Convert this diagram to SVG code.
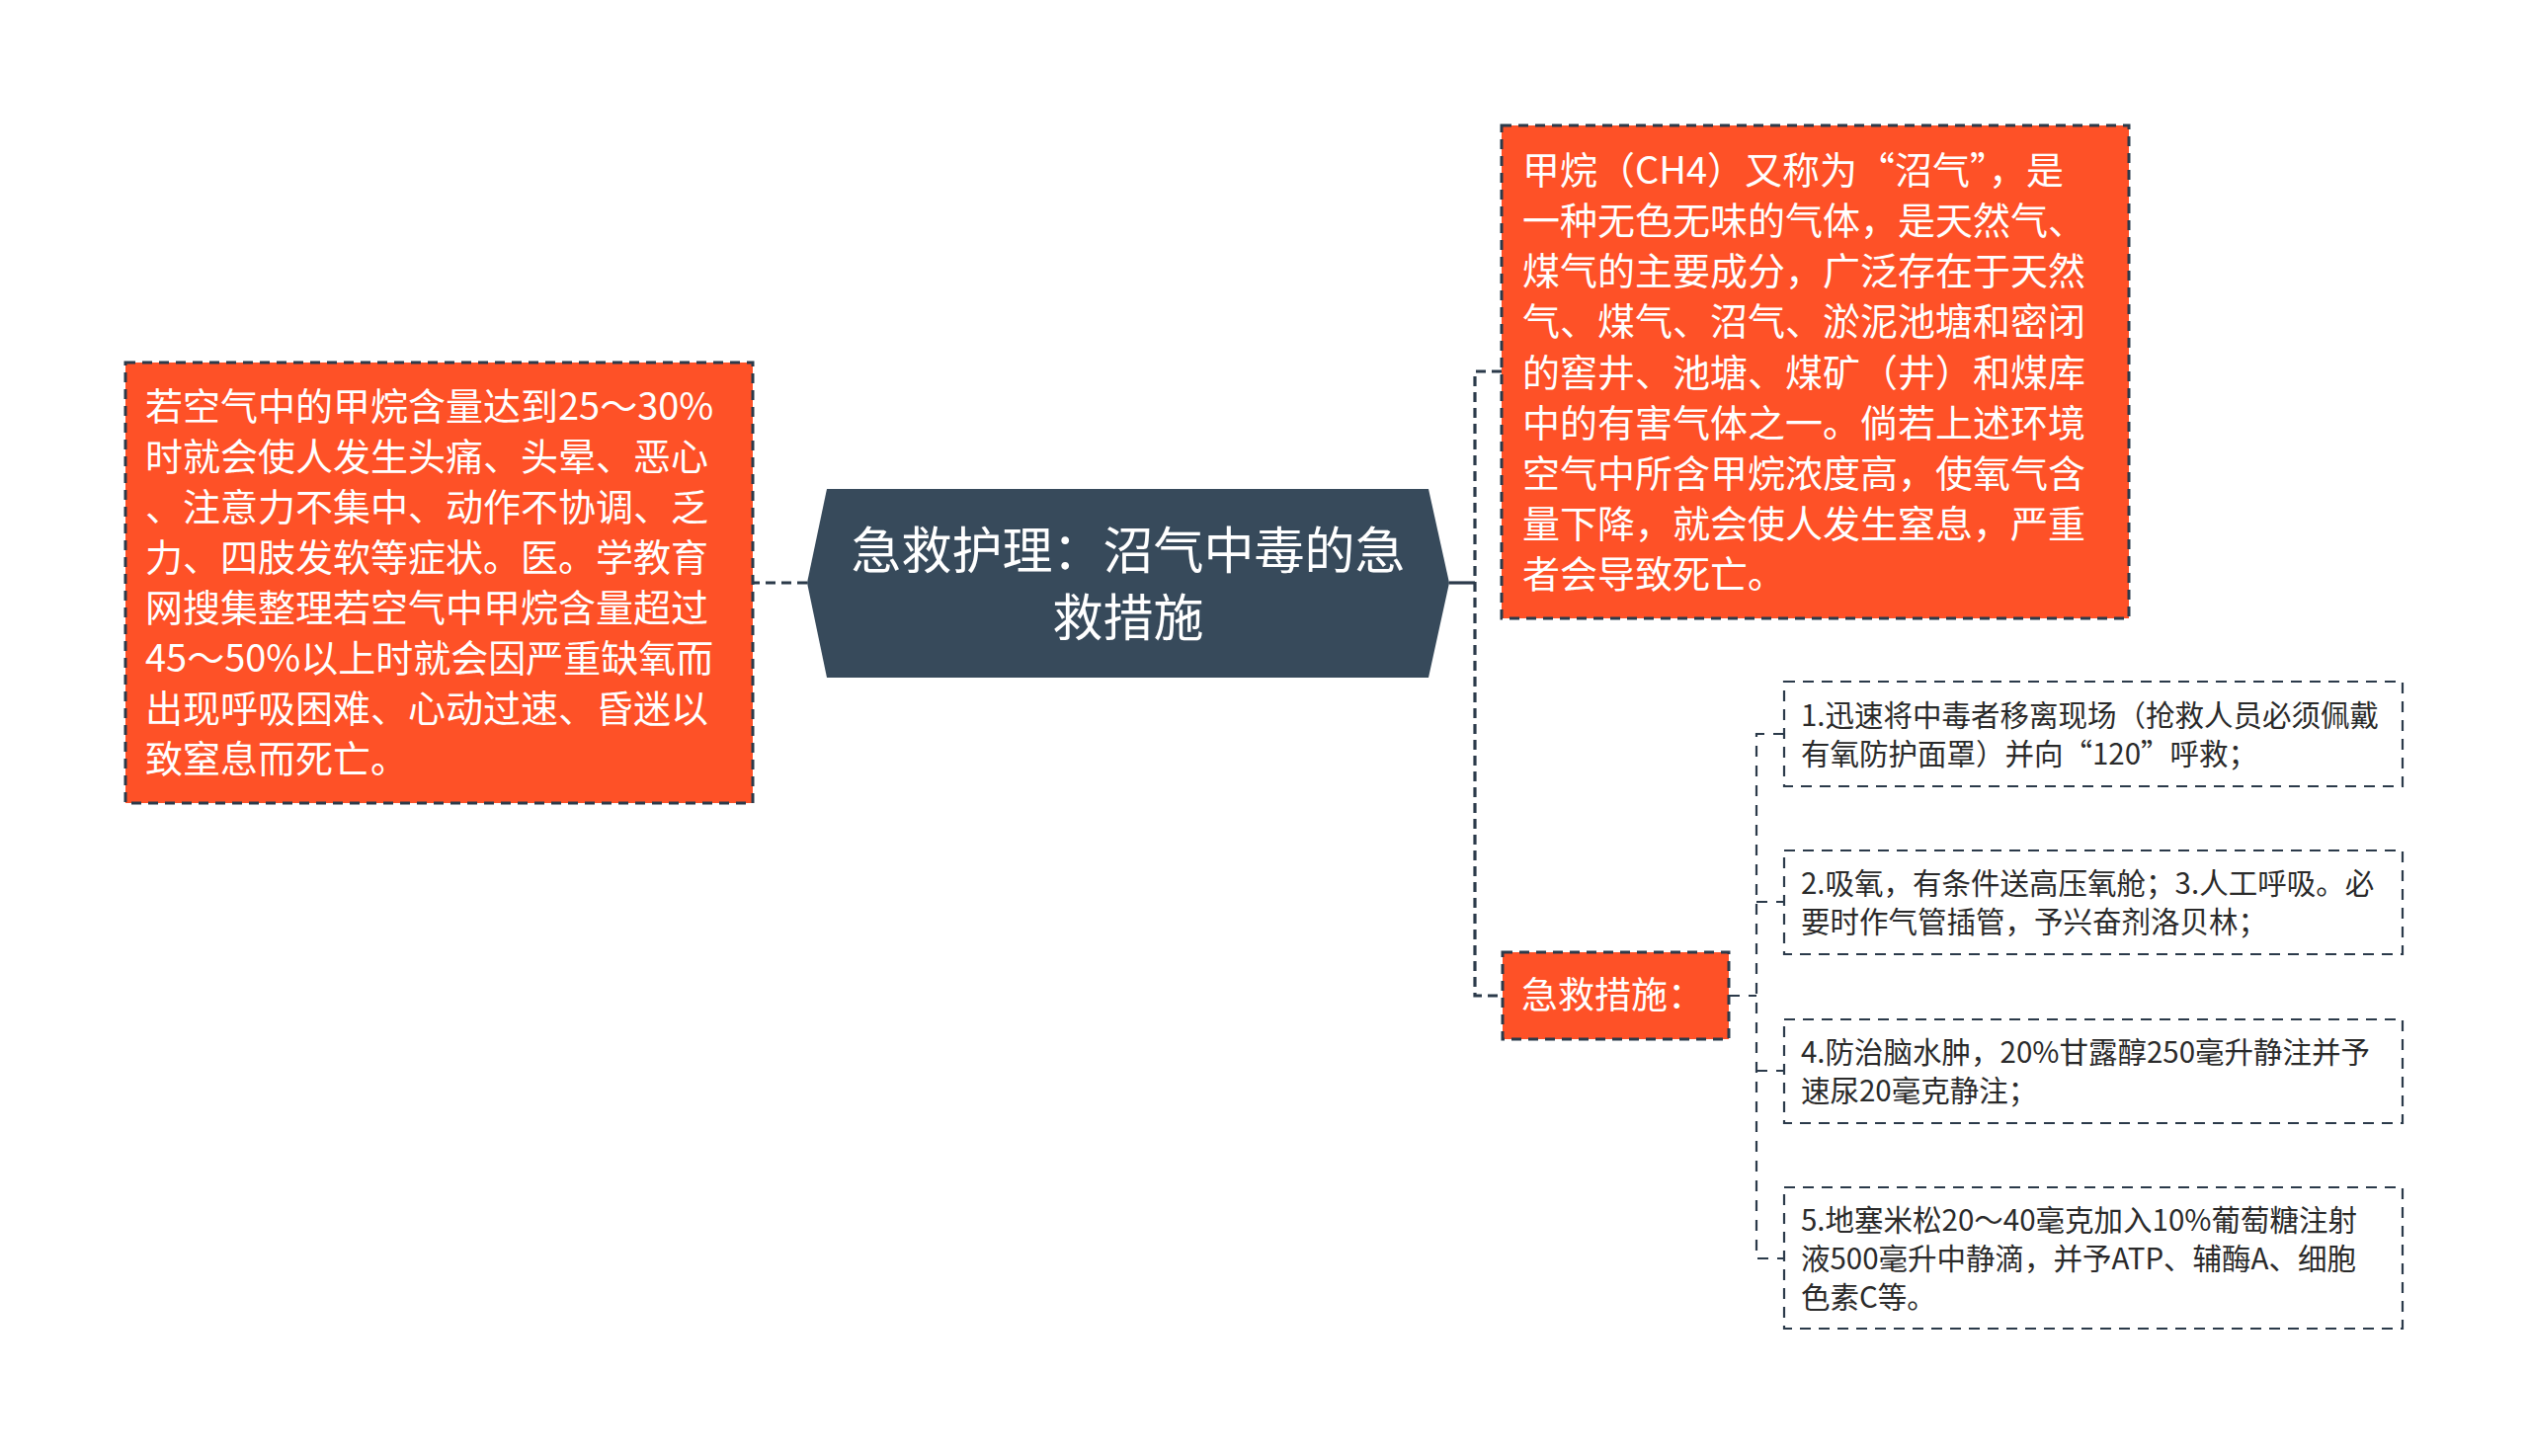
<svg xmlns="http://www.w3.org/2000/svg" width="2560" height="1474" viewBox="0 0 2560 1474">
<style>
.bg{fill:#ffffff}
.orange{fill:#FE5127;stroke:#2B3A4A;stroke-width:3;stroke-dasharray:10 7}
.sub{fill:#ffffff;stroke:#2B3A4A;stroke-width:2.2;stroke-dasharray:11 8}
.hex{fill:#374A5B}
.wt{fill:#ffffff;font-family:"Noto Sans CJK SC","Noto Sans",sans-serif;font-size:38px}
.ct{fill:#ffffff;font-family:"Noto Sans CJK SC","Noto Sans",sans-serif;font-size:51px;text-anchor:middle}
.st{fill:#2a2a2a;font-family:"Noto Sans CJK SC","Noto Sans",sans-serif;font-size:29.5px}
.conn{fill:none;stroke:#2B3A4A;stroke-width:3.2;stroke-dasharray:10 6}
.conn2{fill:none;stroke:#2B3A4A;stroke-width:2.2;stroke-dasharray:11 9}
</style>
<rect class="bg" x="0" y="0" width="2560" height="1474"/>
<g id="connectors">
<path class="conn" d="M817,590 H762"/>
<path d="M1467,590 H1493" fill="none" stroke="#2B3A4A" stroke-width="3.2"/>
<path class="conn" d="M1520,376 H1493 V1008 H1520"/>
<path class="conn2" d="M1750,1008 H1778"/>
<path class="conn2" d="M1806,743 H1778 V1274 H1806"/>
<path class="conn2" d="M1778,913 H1806"/>
<path class="conn2" d="M1778,1084 H1806"/>
</g>
<g id="root">
<polygon class="hex" points="837,495 1446,495 1467,590 1446,686 837,686 817,590"/>
<text class="ct"><tspan x="1142" y="576">急救护理：沼气中毒的急</tspan><tspan x="1142" y="644">救措施</tspan></text>
</g>
<g id="node-left">
<rect class="orange" x="127" y="367" width="635" height="446"/>
<text class="wt"><tspan x="147" y="425">若空气中的甲烷含量达到25～30%</tspan><tspan x="147" y="476">时就会使人发生头痛、头晕、恶心</tspan><tspan x="147" y="527">、注意力不集中、动作不协调、乏</tspan><tspan x="147" y="578">力、四肢发软等症状。医。学教育</tspan><tspan x="147" y="629">网搜集整理若空气中甲烷含量超过</tspan><tspan x="147" y="680">45～50%以上时就会因严重缺氧而</tspan><tspan x="147" y="731">出现呼吸困难、心动过速、昏迷以</tspan><tspan x="147" y="782">致窒息而死亡。</tspan></text>
</g>
<g id="node-methane">
<rect class="orange" x="1520" y="127" width="635" height="499"/>
<text class="wt"><tspan x="1541" y="186">甲烷（CH4）又称为“沼气”，是</tspan><tspan x="1541" y="237">一种无色无味的气体，是天然气、</tspan><tspan x="1541" y="288">煤气的主要成分，广泛存在于天然</tspan><tspan x="1541" y="339">气、煤气、沼气、淤泥池塘和密闭</tspan><tspan x="1541" y="391">的窖井、池塘、煤矿（井）和煤库</tspan><tspan x="1541" y="442">中的有害气体之一。倘若上述环境</tspan><tspan x="1541" y="493">空气中所含甲烷浓度高，使氧气含</tspan><tspan x="1541" y="544">量下降，就会使人发生窒息，严重</tspan><tspan x="1541" y="595">者会导致死亡。</tspan></text>
</g>
<g id="node-measures">
<rect class="orange" x="1521" y="964" width="229" height="88"/>
<text class="wt" style="font-size:37px"><tspan x="1540" y="1021">急救措施：</tspan></text>
</g>
<g id="sub-1">
<rect class="sub" x="1806" y="690" width="626" height="106"/>
<text class="st"><tspan x="1823" y="735">1.迅速将中毒者移离现场（抢救人员必须佩戴</tspan><tspan x="1823" y="774">有氧防护面罩）并向“120”呼救；</tspan></text>
</g>
<g id="sub-2">
<rect class="sub" x="1806" y="861" width="626" height="105"/>
<text class="st"><tspan x="1823" y="905">2.吸氧，有条件送高压氧舱；3.人工呼吸。必</tspan><tspan x="1823" y="944">要时作气管插管，予兴奋剂洛贝林；</tspan></text>
</g>
<g id="sub-3">
<rect class="sub" x="1806" y="1032" width="626" height="105"/>
<text class="st"><tspan x="1823" y="1076">4.防治脑水肿，20%甘露醇250毫升静注并予</tspan><tspan x="1823" y="1115">速尿20毫克静注；</tspan></text>
</g>
<g id="sub-4">
<rect class="sub" x="1806" y="1202" width="626" height="143"/>
<text class="st"><tspan x="1823" y="1246">5.地塞米松20～40毫克加入10%葡萄糖注射</tspan><tspan x="1823" y="1285">液500毫升中静滴，并予ATP、辅酶A、细胞</tspan><tspan x="1823" y="1324">色素C等。</tspan></text>
</g>
</svg>
